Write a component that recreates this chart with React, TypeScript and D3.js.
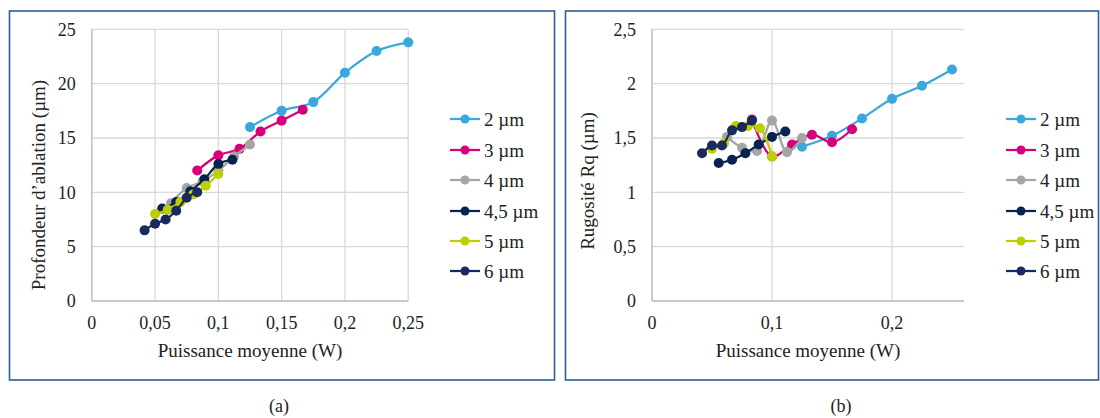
import React from "react";
import * as d3 from "d3";

const seriesNames = ["2 µm", "3 µm", "4 µm", "4,5 µm", "5 µm", "6 µm"];
const seriesColors = ["#3aa8dc", "#d6007b", "#a5a5a5", "#0a2251", "#bccf00", "#1b2a5e"];

const x2 = [0.125, 0.15, 0.175, 0.2, 0.225, 0.25];
const x3 = [0.0833, 0.1, 0.1167, 0.1333, 0.15, 0.1667];
const x4 = [0.0625, 0.075, 0.0875, 0.1, 0.1125, 0.125];
const x45 = [0.0556, 0.0667, 0.0778, 0.0889, 0.1, 0.1111];
const x5 = [0.05, 0.06, 0.07, 0.08, 0.09, 0.1];
const x6 = [0.0417, 0.05, 0.0583, 0.0667, 0.075, 0.0833];

const depth2 = [16.0, 17.5, 18.3, 21.0, 23.0, 23.8];
const depth3 = [12.0, 13.4, 14.0, 15.6, 16.6, 17.6];
const depth4 = [9.0, 10.4, 11.0, 12.0, 13.3, 14.4];
const depth45 = [8.5, 9.1, 10.1, 11.2, 12.6, 13.0];
const depth5 = [8.0, 8.4, 9.1, 9.8, 10.6, 11.7];
const depth6 = [6.5, 7.1, 7.5, 8.3, 9.5, 10.0];

const rq2 = [1.42, 1.52, 1.68, 1.86, 1.98, 2.13];
const rq3 = [1.67, 1.33, 1.44, 1.53, 1.46, 1.58];
const rq4 = [1.51, 1.41, 1.38, 1.66, 1.37, 1.5];
const rq45 = [1.27, 1.3, 1.36, 1.44, 1.51, 1.56];
const rq5 = [1.4, 1.45, 1.61, 1.61, 1.59, 1.33];
const rq6 = [1.36, 1.43, 1.43, 1.57, 1.6, 1.66];

const xTicksA = [0, 0.05, 0.1, 0.15, 0.2, 0.25];
const yTicksA = [0, 5, 10, 15, 20, 25];
const xTicksB = [0, 0.1, 0.2];
const yTicksB = [0, 0.5, 1, 1.5, 2, 2.5];

const xs = [x2, x3, x4, x45, x5, x6];
const depthYs = [depth2, depth3, depth4, depth45, depth5, depth6];
const rqYs = [rq2, rq3, rq4, rq45, rq5, rq6];

const fmt = (v: number) => String(v).replace(".", ",");
const FONT = "Liberation Serif, Times New Roman, Times, DejaVu Serif, Noto Serif, serif";

type PanelProps = {
  ox: number;
  frameW: number;
  plotL: number;
  plotR: number;
  xMax: number;
  yMax: number;
  xTicks: number[];
  yTicks: number[];
  ys: number[][];
  yTitle: string;
  yTitleX: number;
  yTitleY: number;
  xTitleX: number;
  legendX: number;
  caption: string;
  captionX: number;
};

function Panel(p: PanelProps) {
  const plotT = 29.3;
  const plotB = 301;
  const x = d3.scaleLinear().domain([0, p.xMax]).range([p.plotL, p.plotR]);
  const y = d3.scaleLinear().domain([0, p.yMax]).range([plotB, plotT]);
  const line = d3
    .line<[number, number]>()
    .x((d) => x(d[0]))
    .y((d) => y(d[1]))
    .curve(d3.curveCatmullRom.alpha(0.5));
  const legendRows = [119, 150, 180, 211, 241, 271];
  const textStyle = { fontFamily: FONT };
  return (
    <g style={textStyle}>
      <rect x={p.ox} y={11} width={p.frameW} height={369} fill="white" stroke="#2e5d9a" strokeWidth={1.6} />
      {p.yTicks.map((t) => (
        <line key={"gy" + t} x1={p.plotL} x2={p.plotR} y1={y(t)} y2={y(t)} stroke="#d9d9d9" strokeWidth={1.3} />
      ))}
      {p.xTicks.map((t) => (
        <line key={"gx" + t} x1={x(t)} x2={x(t)} y1={plotT} y2={plotB} stroke="#d9d9d9" strokeWidth={1.3} />
      ))}
      <line x1={p.plotL} x2={p.plotL} y1={plotT} y2={plotB} stroke="#bfbfbf" strokeWidth={1.3} />
      <line x1={p.plotL} x2={p.plotR} y1={plotB} y2={plotB} stroke="#bfbfbf" strokeWidth={1.3} />
      {p.yTicks.map((t) => (
        <text key={"ty" + t} x={p.plotL - 16} y={y(t)} dy="0.35em" textAnchor="end" fontSize={18} style={textStyle} fill="#222">
          {fmt(t)}
        </text>
      ))}
      {p.xTicks.map((t) => (
        <text key={"tx" + t} x={x(t)} y={329} textAnchor="middle" fontSize={18} style={textStyle} fill="#222">
          {fmt(t)}
        </text>
      ))}
      <text
        transform={`translate(${p.yTitleX},${p.yTitleY}) rotate(-90)`}
        textAnchor="middle"
        dy="0.35em"
        fontSize={19}
        style={textStyle}
        fill="#222"
      >
        {p.yTitle}
      </text>
      <text x={p.xTitleX} y={357} textAnchor="middle" fontSize={19} style={textStyle} fill="#222">
        Puissance moyenne (W)
      </text>
      {seriesNames.map((name, i) => {
        const pts: [number, number][] = xs[i].map((xv, j) => [xv, p.ys[i][j]]);
        return (
          <g key={name}>
            <path d={line(pts) || ""} fill="none" stroke={seriesColors[i]} strokeWidth={2.25} />
            {pts.map((d, j) => (
              <circle key={j} cx={x(d[0])} cy={y(d[1])} r={5} fill={seriesColors[i]} />
            ))}
          </g>
        );
      })}
      {seriesNames.map((name, i) => (
        <g key={"lg" + name}>
          <line x1={p.legendX} x2={p.legendX + 30} y1={legendRows[i]} y2={legendRows[i]} stroke={seriesColors[i]} strokeWidth={2.25} />
          <circle cx={p.legendX + 15} cy={legendRows[i]} r={4.5} fill={seriesColors[i]} />
          <text x={p.legendX + 34} y={legendRows[i]} dy="0.35em" fontSize={19} style={textStyle} fill="#222">
            {name}
          </text>
        </g>
      ))}
      <text x={p.captionX} y={412} textAnchor="middle" fontSize={18} style={textStyle} fill="#222">
        {p.caption}
      </text>
    </g>
  );
}

export default function App() {
  return (
    <svg
      width={1100}
      height={418}
      style={{ position: "absolute", left: 0, top: 0, background: "white" }}
    >
      <rect x={0} y={0} width={1100} height={418} fill="white" />
      <Panel
        ox={9.5}
        frameW={545}
        plotL={91.8}
        plotR={408.2}
        xMax={0.25}
        yMax={25}
        xTicks={xTicksA}
        yTicks={yTicksA}
        ys={depthYs}
        yTitle="Profondeur d’ablation (µm)"
        yTitleX={38}
        yTitleY={185}
        xTitleX={250}
        legendX={450}
        caption="(a)"
        captionX={279}
      />
      <Panel
        ox={565.5}
        frameW={533}
        plotL={652}
        plotR={964}
        xMax={0.26}
        yMax={2.5}
        xTicks={xTicksB}
        yTicks={yTicksB}
        ys={rqYs}
        yTitle="Rugosité Rq (µm)"
        yTitleX={587}
        yTitleY={181}
        xTitleX={808}
        legendX={1006}
        caption="(b)"
        captionX={841}
      />
    </svg>
  );
}
